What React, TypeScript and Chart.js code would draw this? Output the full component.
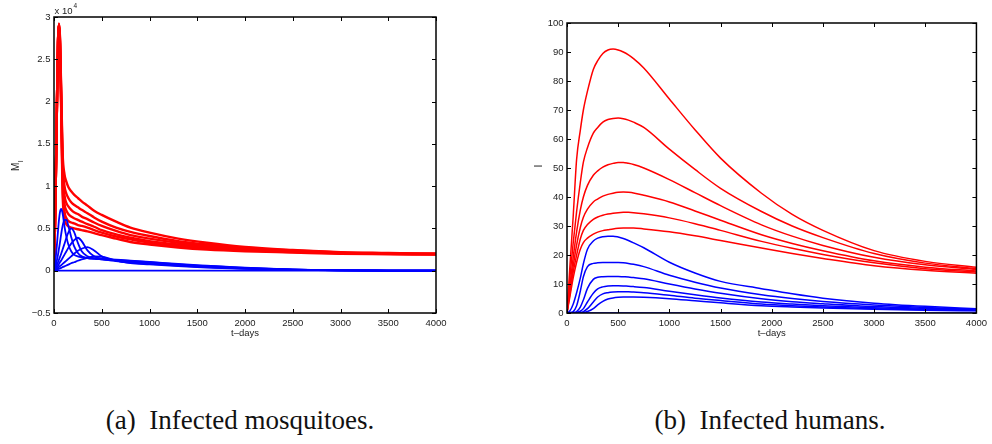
import React, { useEffect, useRef } from "react";
import { Chart, registerables } from "chart.js";

Chart.register(...registerables);

// ---------- Left panel: infected mosquitoes (values in units of 10^4) ----------
const mosqDays = [0, 15, 30, 42, 52, 62, 75, 90, 110, 130, 150, 180, 210, 250, 290, 350, 420, 500, 650, 800, 1000, 1300, 1600, 2000, 2500, 3000, 3500, 4000];
const mosqRed1 = [0, 0.8, 1.9, 2.7, 2.92, 2.78, 2.15, 1.4, 1.14, 1.05, 0.99, 0.94, 0.9, 0.86, 0.82, 0.77, 0.71, 0.66, 0.58, 0.51, 0.45, 0.38, 0.33, 0.28, 0.245, 0.22, 0.21, 0.2];
const mosqRed2 = [0, 0.8, 1.9, 2.7, 2.92, 2.76, 2.1, 1.3, 1.0, 0.91, 0.86, 0.81, 0.78, 0.75, 0.72, 0.68, 0.63, 0.58, 0.51, 0.46, 0.41, 0.35, 0.31, 0.27, 0.24, 0.215, 0.205, 0.2];
const mosqRed3 = [0, 0.8, 1.9, 2.7, 2.91, 2.74, 2.05, 1.2, 0.89, 0.8, 0.76, 0.72, 0.69, 0.67, 0.64, 0.61, 0.57, 0.53, 0.47, 0.42, 0.38, 0.33, 0.29, 0.26, 0.23, 0.21, 0.2, 0.2];
const mosqRed4 = [0, 0.8, 1.9, 2.7, 2.9, 2.72, 2.0, 1.1, 0.79, 0.71, 0.67, 0.64, 0.62, 0.6, 0.58, 0.55, 0.52, 0.48, 0.43, 0.39, 0.35, 0.31, 0.28, 0.25, 0.225, 0.21, 0.2, 0.195];
const mosqRed5 = [0, 0.8, 1.9, 2.7, 2.9, 2.7, 1.95, 1.0, 0.7, 0.62, 0.59, 0.57, 0.56, 0.54, 0.53, 0.51, 0.48, 0.45, 0.405, 0.37, 0.33, 0.29, 0.265, 0.24, 0.22, 0.205, 0.2, 0.195];
const mosqRed6 = [0, 0.8, 1.9, 2.7, 2.89, 2.68, 1.9, 0.92, 0.62, 0.55, 0.525, 0.51, 0.5, 0.49, 0.48, 0.465, 0.445, 0.42, 0.38, 0.34, 0.31, 0.275, 0.25, 0.23, 0.215, 0.2, 0.195, 0.19];
const mosqBlue1 = [0, 0.12, 0.3, 0.47, 0.6, 0.69, 0.73, 0.68, 0.52, 0.4, 0.31, 0.23, 0.19, 0.17, 0.16, 0.15, 0.145, 0.14, 0.13, 0.12, 0.105, 0.08, 0.06, 0.035, 0.015, 0.006, 0.002, 0];
const mosqBlue2 = [0, 0.05, 0.12, 0.19, 0.26, 0.33, 0.43, 0.53, 0.6, 0.6, 0.53, 0.4, 0.29, 0.21, 0.17, 0.15, 0.14, 0.135, 0.125, 0.115, 0.1, 0.075, 0.055, 0.032, 0.014, 0.005, 0.002, 0];
const mosqBlue3 = [0, 0.03, 0.07, 0.1, 0.13, 0.16, 0.2, 0.25, 0.32, 0.39, 0.45, 0.5, 0.46, 0.33, 0.23, 0.17, 0.145, 0.135, 0.12, 0.11, 0.095, 0.07, 0.05, 0.03, 0.013, 0.005, 0.002, 0];
const mosqBlue4 = [0, 0.02, 0.04, 0.06, 0.08, 0.1, 0.12, 0.15, 0.19, 0.23, 0.27, 0.32, 0.36, 0.39, 0.35, 0.24, 0.17, 0.14, 0.115, 0.1, 0.088, 0.065, 0.045, 0.027, 0.012, 0.004, 0.001, 0];
const mosqBlue5 = [0, 0.01, 0.025, 0.035, 0.045, 0.055, 0.065, 0.08, 0.1, 0.12, 0.14, 0.17, 0.2, 0.235, 0.26, 0.28, 0.24, 0.17, 0.12, 0.095, 0.08, 0.06, 0.042, 0.025, 0.011, 0.004, 0.001, 0];
const mosqBlue6 = [0, 0.005, 0.012, 0.018, 0.023, 0.028, 0.034, 0.042, 0.052, 0.062, 0.072, 0.088, 0.1, 0.118, 0.133, 0.152, 0.168, 0.165, 0.12, 0.09, 0.075, 0.055, 0.038, 0.022, 0.01, 0.003, 0.001, 0];
const mosqBlue7 = [0, 0, 0, 0, 0, 0, 0, 0, 0, 0, 0, 0, 0, 0, 0, 0, 0, 0, 0, 0, 0, 0, 0, 0, 0, 0, 0, 0];

// ---------- Right panel: infected humans ----------
const humanDays = [0, 30, 60, 94, 130, 160, 200, 257, 300, 350, 400, 450, 500, 550, 600, 650, 750, 1000, 1250, 1500, 1900, 2200, 2500, 3000, 3500, 4000];
const humanRed1 = [0, 17, 33, 53, 63, 70, 76.5, 84, 87, 89.5, 90.7, 91, 90.7, 90, 89, 87.7, 84.5, 73.8, 63.2, 53.4, 41.3, 34, 28.5, 21.5, 17.8, 15.8];
const humanRed2 = [0, 13, 24, 35, 45, 52, 57, 62, 64, 65.8, 66.7, 67.1, 67.2, 67, 66.5, 65.8, 64, 56.5, 49.5, 43, 35, 30, 26, 20.5, 17.2, 15.3];
const humanRed3 = [0, 10, 19, 28, 35.5, 40, 44, 47.5, 49, 50.3, 51.1, 51.6, 51.9, 51.9, 51.6, 51.2, 50, 46, 41.5, 37, 30.4, 26.5, 23.3, 19.2, 16.6, 15];
const humanRed4 = [0, 8.5, 16, 23.5, 29.5, 33, 35.8, 38.3, 39.3, 40.3, 40.9, 41.3, 41.6, 41.7, 41.6, 41.4, 40.6, 38.3, 35.2, 32, 27, 24, 21.5, 18, 15.8, 14.5];
const humanRed5 = [0, 7, 14, 20, 25.5, 28.5, 30.5, 32.3, 33.1, 33.7, 34.1, 34.4, 34.6, 34.7, 34.7, 34.6, 34.2, 32.8, 30.8, 28.5, 24.7, 22.3, 20.2, 17.3, 15.3, 14.1];
const humanRed6 = [0, 6, 12, 17.5, 22, 24.3, 25.8, 27.2, 27.9, 28.4, 28.7, 29, 29.2, 29.3, 29.3, 29.3, 29, 28, 26.6, 25, 22.4, 20.5, 18.8, 16.3, 14.7, 13.7];
const humanBlue1 = [0, 0.8, 3, 7, 12, 17, 22, 24.8, 25.8, 26.3, 26.5, 26.5, 26.2, 25.7, 25, 24.2, 22.5, 17.5, 13.8, 10.9, 8.4, 6.6, 5.1, 3.4, 2.3, 1.5];
const humanBlue2 = [0, 0.2, 0.5, 2.5, 7.5, 12.5, 16, 17.1, 17.3, 17.4, 17.4, 17.4, 17.4, 17.3, 17.1, 16.8, 16, 13, 10.6, 8.6, 6.3, 5, 4, 2.8, 1.9, 1.3];
const humanBlue3 = [0, 0.1, 0.2, 0.5, 2, 4.5, 8.5, 11.6, 12.3, 12.5, 12.6, 12.6, 12.6, 12.5, 12.4, 12.2, 11.8, 10, 8.3, 6.8, 4.9, 3.9, 3.2, 2.2, 1.6, 1.1];
const humanBlue4 = [0, 0, 0.1, 0.2, 0.6, 1.5, 3.8, 6.8, 8.3, 9, 9.3, 9.4, 9.4, 9.35, 9.2, 9.1, 8.8, 7.5, 6.3, 5.2, 3.8, 3.1, 2.5, 1.8, 1.3, 0.95];
const humanBlue5 = [0, 0, 0, 0.1, 0.2, 0.5, 1.5, 3.8, 5.5, 6.6, 7, 7.2, 7.3, 7.3, 7.3, 7.2, 7, 6.1, 5.1, 4.3, 3.1, 2.5, 2.05, 1.5, 1.1, 0.85];
const humanBlue6 = [0, 0, 0, 0, 0.1, 0.2, 0.5, 1.5, 2.8, 4, 4.8, 5.2, 5.4, 5.5, 5.5, 5.5, 5.4, 4.9, 4.2, 3.5, 2.5, 2.05, 1.7, 1.25, 0.95, 0.75];
const humanBlue7 = [0, 0, 0, 0, 0, 0, 0, 0, 0, 0, 0, 0, 0, 0, 0, 0, 0, 0, 0, 0, 0, 0, 0, 0, 0, 0];

// ---------- Axes ----------
const dayTicksStep = 500;
const dayMax = 4000;
const mosqYMin = -0.5;
const mosqYMax = 3;
const mosqYStep = 0.5;
const humanYMin = 0;
const humanYMax = 100;
const humanYStep = 10;

const RED = "#ff0000";
const BLUE = "#0000ff";
const TICK_FONT = { family: "'Liberation Sans', Arial, sans-serif", size: 9.5 };
const TEXT_COLOR = "#222";

const fmt = (v: number) => {
  const r = Math.round(v * 10) / 10;
  return r < 0 ? "\u2212" + String(Math.abs(r)) : String(r);
};

type PanelCfg = {
  days: number[];
  reds: number[][];
  blues: number[][];
  yMin: number;
  yMax: number;
  yStep: number;
  yAxisWidth: number;
  padRight: number;
  padTop: number;
  lineWidthRed: number;
  lineWidthBlue: number;
  drawExtra: (ctx: CanvasRenderingContext2D, area: any) => void;
};

const framePlugin = (extra: (ctx: CanvasRenderingContext2D, area: any) => void) => ({
  id: "matlabFrame",
  afterDraw(chart: any) {
    const { ctx, chartArea: a, scales } = chart;
    const x = scales.x;
    const y = scales.y;
    ctx.save();
    ctx.strokeStyle = "#000";
    ctx.lineWidth = 1;
    ctx.beginPath();
    const tl = 4;
    x.ticks.forEach((t: any) => {
      const px = Math.round(x.getPixelForValue(t.value)) + 0.5;
      ctx.moveTo(px, a.bottom);
      ctx.lineTo(px, a.bottom - tl);
      ctx.moveTo(px, a.top);
      ctx.lineTo(px, a.top + tl);
    });
    y.ticks.forEach((t: any) => {
      const py = Math.round(y.getPixelForValue(t.value)) + 0.5;
      ctx.moveTo(a.left, py);
      ctx.lineTo(a.left + tl, py);
      ctx.moveTo(a.right, py);
      ctx.lineTo(a.right - tl, py);
    });
    ctx.stroke();
    ctx.lineWidth = 1.5;
    ctx.strokeRect(a.left, a.top, a.right - a.left, a.bottom - a.top);
    ctx.fillStyle = TEXT_COLOR;
    ctx.font = "9.5px 'Liberation Sans', Arial, sans-serif";
    ctx.textAlign = "center";
    ctx.textBaseline = "middle";
    ctx.fillText("t\u2013days", (a.left + a.right) / 2, 333);
    extra(ctx, a);
    ctx.restore();
  },
});

function Panel({ cfg, width, height }: { cfg: PanelCfg; width: number; height: number }) {
  const ref = useRef<HTMLCanvasElement | null>(null);
  useEffect(() => {
    if (!ref.current) return;
    const mk = (vals: number[], color: string, w: number) => ({
      data: cfg.days.map((d, i) => ({ x: d, y: vals[i] })),
      borderColor: color,
      backgroundColor: color,
      borderWidth: w,
      pointRadius: 0,
      fill: false,
      tension: 0.4,
      cubicInterpolationMode: "monotone" as const,
    });
    const datasets = [
      ...cfg.blues.map((b) => mk(b, BLUE, cfg.lineWidthBlue)),
      ...cfg.reds.map((r) => mk(r, RED, cfg.lineWidthRed)),
    ];
    const chart = new Chart(ref.current, {
      type: "line",
      data: { datasets },
      options: {
        animation: false,
        responsive: false,
        devicePixelRatio: 1,
        layout: { padding: { left: 0, right: cfg.padRight, top: cfg.padTop, bottom: 0 } },
        plugins: { legend: { display: false }, tooltip: { enabled: false } },
        scales: {
          x: {
            type: "linear",
            min: 0,
            max: dayMax,
            ticks: {
              stepSize: dayTicksStep,
              font: TICK_FONT,
              color: TEXT_COLOR,
              padding: 5,
              maxRotation: 0,
              autoSkip: false,
              callback: (v: any) => String(v),
            },
            grid: { display: false, drawTicks: false },
            border: { display: false },
            afterFit: (s: any) => {
              s.height = 27;
            },
          },
          y: {
            type: "linear",
            min: cfg.yMin,
            max: cfg.yMax,
            ticks: {
              stepSize: cfg.yStep,
              font: TICK_FONT,
              color: TEXT_COLOR,
              padding: 3.5,
              autoSkip: false,
              callback: (v: any) => fmt(Number(v)),
            },
            grid: { display: false, drawTicks: false },
            border: { display: false },
            afterFit: (s: any) => {
              s.width = cfg.yAxisWidth;
            },
          },
        },
      },
      plugins: [framePlugin(cfg.drawExtra)],
    });
    return () => chart.destroy();
  }, [cfg]);
  return <canvas ref={ref} width={width} height={height} style={{ width, height, display: "block" }} />;
}

const leftCfg: PanelCfg = {
  days: mosqDays,
  reds: [mosqRed1, mosqRed2, mosqRed3, mosqRed4, mosqRed5, mosqRed6],
  blues: [mosqBlue1, mosqBlue2, mosqBlue3, mosqBlue4, mosqBlue5, mosqBlue6, mosqBlue7],
  yMin: mosqYMin,
  yMax: mosqYMax,
  yStep: mosqYStep,
  yAxisWidth: 54,
  padRight: 60,
  padTop: 17,
  lineWidthRed: 2.4,
  lineWidthBlue: 1.8,
  drawExtra: (ctx, a) => {
    ctx.fillStyle = TEXT_COLOR;
    ctx.textAlign = "left";
    ctx.textBaseline = "alphabetic";
    ctx.font = "9.5px 'Liberation Sans', Arial, sans-serif";
    ctx.fillText("x 10", a.left + 0.5, 13.5);
    ctx.font = "6.5px 'Liberation Sans', Arial, sans-serif";
    ctx.fillText("4", a.left + 19.5, 7.5);
    ctx.save();
    ctx.translate(19, 171);
    ctx.rotate(-Math.PI / 2);
    ctx.font = "10px 'Liberation Sans', Arial, sans-serif";
    ctx.fillText("M", 0, 0);
    ctx.font = "7px 'Liberation Sans', Arial, sans-serif";
    ctx.fillText("I", 8.8, 4);
    ctx.restore();
  },
};

const rightCfg: PanelCfg = {
  days: humanDays,
  reds: [humanRed1, humanRed2, humanRed3, humanRed4, humanRed5, humanRed6],
  blues: [humanBlue1, humanBlue2, humanBlue3, humanBlue4, humanBlue5, humanBlue6, humanBlue7],
  yMin: humanYMin,
  yMax: humanYMax,
  yStep: humanYStep,
  yAxisWidth: 71,
  padRight: 15,
  padTop: 23,
  lineWidthRed: 1.5,
  lineWidthBlue: 1.5,
  drawExtra: (ctx) => {
    ctx.save();
    ctx.fillStyle = TEXT_COLOR;
    ctx.translate(45.5, 166);
    ctx.rotate(-Math.PI / 2);
    ctx.textAlign = "center";
    ctx.textBaseline = "alphabetic";
    ctx.font = "10.5px 'Liberation Sans', Arial, sans-serif";
    ctx.fillText("I", 0, 0);
    ctx.restore();
  },
};

const captionStyle: React.CSSProperties = {
  position: "absolute",
  top: 407,
  transform: "translateX(-50%)",
  fontFamily: "'Liberation Serif', 'Times New Roman', serif",
  fontSize: 27,
  lineHeight: "27px",
  whiteSpace: "nowrap",
  color: "#111",
};

export default function App() {
  return (
    <div style={{ position: "absolute", left: 0, top: 0, width: 992, height: 444, background: "#fff", overflow: "hidden" }}>
      <div style={{ position: "absolute", left: 0, top: 0 }}>
        <Panel cfg={leftCfg} width={496} height={340} />
      </div>
      <div style={{ position: "absolute", left: 496, top: 0 }}>
        <Panel cfg={rightCfg} width={496} height={340} />
      </div>
      <div style={{ ...captionStyle, left: 240 }}>(a)&nbsp;&nbsp;Infected mosquitoes.</div>
      <div style={{ ...captionStyle, left: 770 }}>(b)&nbsp;&nbsp;Infected humans.</div>
    </div>
  );
}
